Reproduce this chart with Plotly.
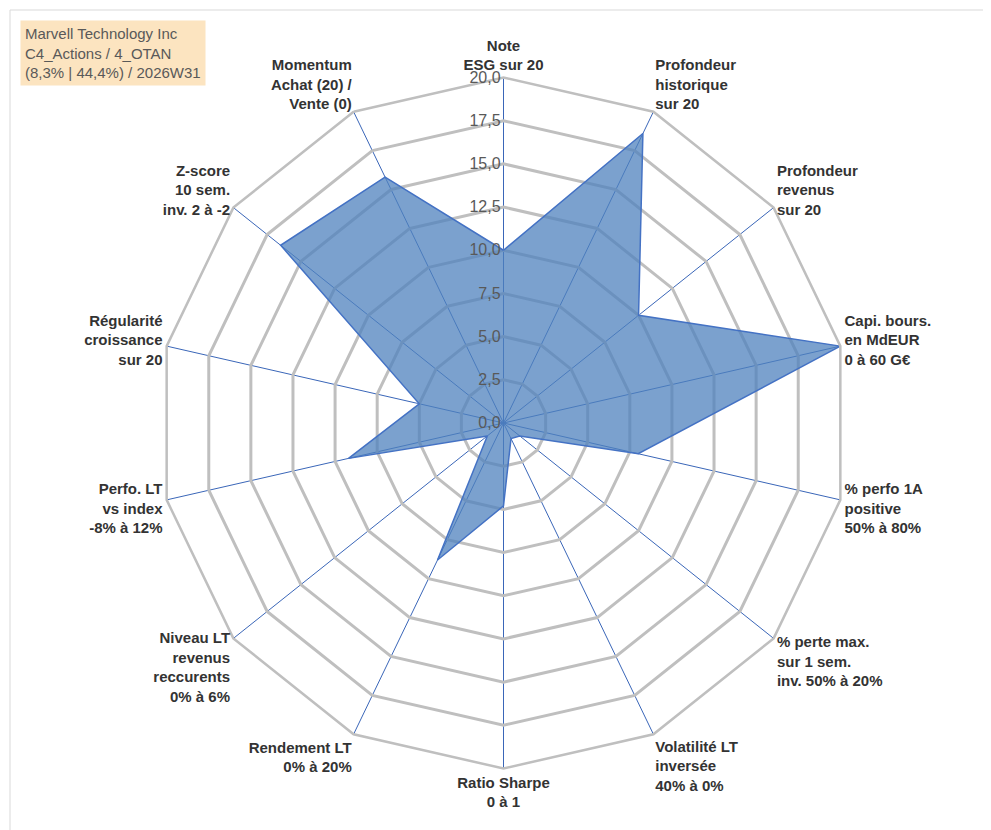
import plotly.graph_objects as go

categories = [
    "Note<br>ESG sur 20",
    "Profondeur<br>historique<br>sur 20",
    "Profondeur<br>revenus<br>sur 20",
    "Capi. bours.<br>en MdEUR<br>0 à 60 G€",
    "% perfo 1A<br>positive<br>50% à 80%",
    "% perte max.<br>sur 1 sem.<br>inv. 50% à 20%",
    "Volatilité LT<br>inversée<br>40% à 0%",
    "Ratio Sharpe<br>0 à 1",
    "Rendement LT<br>0% à 20%",
    "Niveau LT<br>revenus<br>reccurents<br>0% à 6%",
    "Perfo. LT<br>vs index<br>-8% à 12%",
    "Régularité<br>croissance<br>sur 20",
    "Z-score<br>10 sem.<br>inv. 2 à -2",
    "Momentum<br>Achat (20) /<br>Vente (0)",
]
scores = [10, 18.6, 10, 20, 8, 1.2, 1, 4.8, 8.8, 1.2, 9.2, 5, 16.5, 15.8]
tick_vals = [0, 2.5, 5, 7.5, 10, 12.5, 15, 17.5, 20]
tick_text = ["0,0", "2,5", "5,0", "7,5", "10,0", "12,5", "15,0", "17,5", "20,0"]

W, H = 991, 830
ml, mr, mt, mb = 150, 150, 62, 62

fig = go.Figure()
fig.add_trace(go.Scatterpolar(
    r=scores + scores[:1], theta=categories + categories[:1],
    fill="toself", fillcolor="rgba(79,129,189,0.75)",
    line=dict(color="#4472C4", width=1.5), mode="lines",
))

fig.update_layout(
    width=W, height=H, showlegend=False,
    paper_bgcolor="white", plot_bgcolor="white",
    margin=dict(l=ml, r=mr, t=mt, b=mb),
    font=dict(family="Liberation Sans, Arial", size=14, color="#333"),
    polar=dict(
        gridshape="linear", bgcolor="white",
        domain=dict(x=[0, 1], y=[0, 1]),
        radialaxis=dict(range=[0, 20], tickvals=tick_vals, ticktext=tick_text,
                        angle=90, tickangle=90, showline=False,
                        side="counterclockwise",
                        gridcolor="#BFBFBF", gridwidth=2.5,
                        tickfont=dict(size=16, color="#595959")),
        angularaxis=dict(rotation=90, direction="clockwise",
                         linecolor="#BFBFBF", linewidth=2.5,
                         gridcolor="#3A66B8", gridwidth=1.2,
                         tickfont=dict(size=15, color="#333"),
                         ticks=""),
    ),
    annotations=[dict(
        x=-(ml - 12) / (W - ml - mr), y=1 + (mt - 12) / (H - mt - mb),
        xref="paper", yref="paper", xanchor="left", yanchor="top",
        text="Marvell Technology Inc<br>C4_Actions / 4_OTAN<br>(8,3% | 44,4%) / 2026W31",
        showarrow=False, align="left", bgcolor="#FCE4C0",
        font=dict(size=15, color="#595959"), borderpad=4,
    )],
    shapes=[dict(type="rect", xref="paper", yref="paper",
                 x0=-(ml - 2) / (W - ml - mr), y0=-(mb - 2) / (H - mt - mb),
                 x1=1 + (mr - 2) / (W - ml - mr), y1=1 + (mt - 2) / (H - mt - mb),
                 line=dict(color="#D9D9D9", width=1))],
)
fig.update_polars(angularaxis_ticktext=["<b>%s</b>" % c for c in categories],
                  angularaxis_tickvals=categories)
fig.write_html("out.html")
